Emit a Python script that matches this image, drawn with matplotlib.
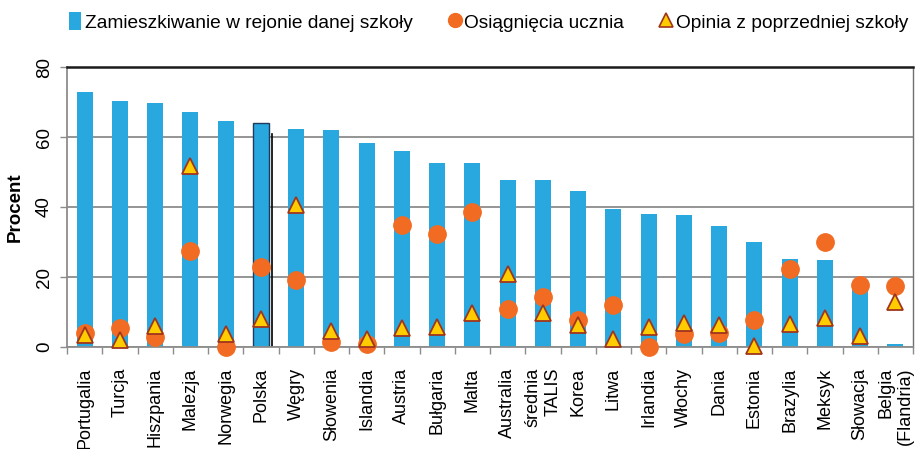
import numpy as np
import matplotlib
matplotlib.use("Agg")
import matplotlib.pyplot as plt
from matplotlib.lines import Line2D
from matplotlib.patches import Patch

plt.rcParams['font.family'] = ['Liberation Sans', 'DejaVu Sans']

countries = ["Portugalia", "Turcja", "Hiszpania", "Malezja", "Norwegia", "Polska",
             "Węgry", "Słowenia", "Islandia", "Austria", "Bułgaria", "Malta",
             "Australia", "średnia\nTALIS", "Korea", "Litwa", "Irlandia", "Włochy",
             "Dania", "Estonia", "Brazylia", "Meksyk", "Słowacja", "Belgia\n(Flandria)"]
zamieszkiwanie = [72.9, 70.3, 69.7, 67.1, 64.6, 64.0, 62.3, 62.0, 58.3, 56.0, 52.6, 52.6,
                  47.7, 47.7, 44.6, 39.5, 38.0, 37.7, 34.6, 30.0, 25.1, 24.9, 17.4, 1.0]
osiagniecia = [4.1, 5.5, 2.8, 27.4, 0.1, 23.0, 19.1, 1.5, 0.9, 34.9, 32.3, 38.5,
               10.8, 14.3, 7.7, 12.0, 0.1, 3.6, 4.1, 7.7, 22.2, 30.1, 17.7, 17.3]
opinia = [3.4, 1.9, 5.9, 51.6, 3.7, 8.0, 40.6, 4.5, 2.4, 5.4, 5.8, 9.8,
          20.8, 9.8, 6.3, 2.3, 5.8, 7.0, 6.3, 0.4, 6.6, 8.4, 3.1, 12.8]
highlight = "Polska"

blue = "#29A8E0"
orange = "#F26B22"
yellow = "#FFCC00"
brown = "#A0351E"
grid_c = "#8C8C8C"

fig = plt.figure(figsize=(9.17, 4.49), dpi=100)
ax = fig.add_axes([67/917, 102/449, 846/917, 280/449])

x = np.arange(len(countries))
w = 0.45
bars = ax.bar(x, zamieszkiwanie, width=w, color=blue, zorder=2)
hi = countries.index(highlight)
bars[hi].set_edgecolor("#1F3A5A")
bars[hi].set_linewidth(1.0)
# shadow line right of highlighted bar
ax.plot([hi + w/2 + 0.1]*2, [0, zamieszkiwanie[hi] - 3], color="black", lw=1.2, zorder=2)

ax.plot(x, osiagniecia, 'o', ms=12.5, color=orange, mec=orange, zorder=3, clip_on=False)
ax.plot(x, opinia, '^', ms=11.5, color=yellow, mec=brown, mew=1.3, zorder=4, clip_on=False)

ax.set_xlim(-0.5, len(countries) - 0.5)
ax.set_ylim(0, 80)
ax.set_yticks([0, 20, 40, 60, 80])
ax.yaxis.grid(True, color=grid_c, lw=1.3, zorder=1)
ax.set_axisbelow(True)
ax.tick_params(axis='y', length=5, color=grid_c, width=1, pad=5, labelsize=13.5)
for lab in ax.get_yticklabels():
    lab.set_rotation(90)
    lab.set_va('center')

ax.set_xticks(x)
ax.set_xticklabels(countries, rotation=90, ha='center', va='top', fontsize=13,
                   multialignment='right')
ax.set_xticks(np.arange(len(countries) + 1) - 0.5, minor=True)
ax.tick_params(axis='x', which='major', length=0, pad=15)
ax.tick_params(axis='x', which='minor', length=5, color=grid_c, width=1)

for s in ['left', 'bottom', 'right']:
    ax.spines[s].set_color(grid_c)
    ax.spines[s].set_linewidth(1.3)
ax.spines['top'].set_color("#1A1A1A")
ax.spines['top'].set_linewidth(1.8)
ax.spines['right'].set_color("#707070")
ax.spines['right'].set_linewidth(1.0)

ax.set_ylabel("Procent", fontsize=13.5, fontweight='bold', labelpad=9)

handles = [Patch(facecolor=blue, edgecolor='none'),
           Line2D([], [], marker='o', ls='none', ms=10, color=orange),
           Line2D([], [], marker='^', ls='none', ms=10, color=yellow, mec=brown, mew=1.2)]
labels = ["Zamieszkiwanie w rejonie danej szkoły", "Osiągnięcia ucznia",
          "Opinia z poprzedniej szkoły"]
fig.legend(handles, labels, loc='center', bbox_to_anchor=(0.533, 0.951), ncol=3,
           frameon=False, fontsize=13.8, handlelength=0.6, handletextpad=0.2,
           columnspacing=1.9, handleheight=1.0)

fig.savefig("out.png", dpi=100)
